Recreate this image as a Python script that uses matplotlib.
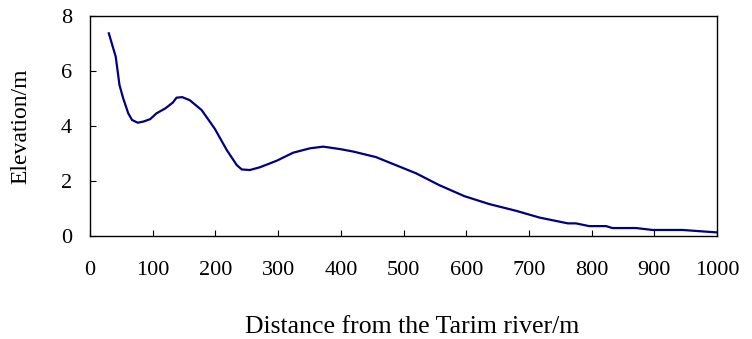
import matplotlib
matplotlib.use("Agg")
import matplotlib.pyplot as plt

# profile
distance = [30, 41, 47, 53, 61, 67, 76, 85, 96, 106, 120, 132, 138, 147, 159,
            178, 199, 218, 234, 242, 255, 271, 298, 324, 351, 372, 399,
            420, 456, 520, 557, 597, 637, 679, 717, 762, 775, 796, 823, 833,
            871, 897, 945, 1000]
elevation = [7.37, 6.52, 5.49, 5.00, 4.46, 4.22, 4.12, 4.16, 4.25, 4.46, 4.64, 4.85, 5.03, 5.05, 4.94,
             4.58, 3.90, 3.13, 2.58, 2.42, 2.40, 2.50, 2.74, 3.03, 3.19, 3.25, 3.16,
             3.07, 2.87, 2.28, 1.85, 1.45, 1.16, 0.92, 0.67, 0.46, 0.46, 0.36, 0.36, 0.29,
             0.29, 0.22, 0.22, 0.13]

x_ticks = list(range(0, 1001, 100))
y_ticks = [0, 2, 4, 6, 8]

plt.rcParams['font.family'] = ['Liberation Serif', 'DejaVu Serif']

fig = plt.figure(figsize=(7.52, 3.39), dpi=100)
ax = fig.add_axes([0.1197, 0.3038, 0.8338, 0.649])

ax.plot(distance, elevation, color='#000080', linewidth=1.6)

ax.set_xlim(0, 1000)
ax.set_ylim(0, 8)
ax.set_xticks(x_ticks)
ax.set_yticks(y_ticks)
ax.tick_params(axis='x', direction='in', length=4, pad=18, labelsize=16, top=False)
ax.tick_params(axis='y', direction='in', length=4, pad=13, labelsize=16, right=False)

for s in ax.spines.values():
    s.set_linewidth(1.0)
    s.set_color('black')

ax.set_xlabel('Distance from the Tarim river/m', fontsize=18.5, labelpad=26)
ax.xaxis.label.set_x(0.513)
ax.set_ylabel('Elevation/m', fontsize=17, labelpad=21)

fig.savefig('out.png', dpi=100)
